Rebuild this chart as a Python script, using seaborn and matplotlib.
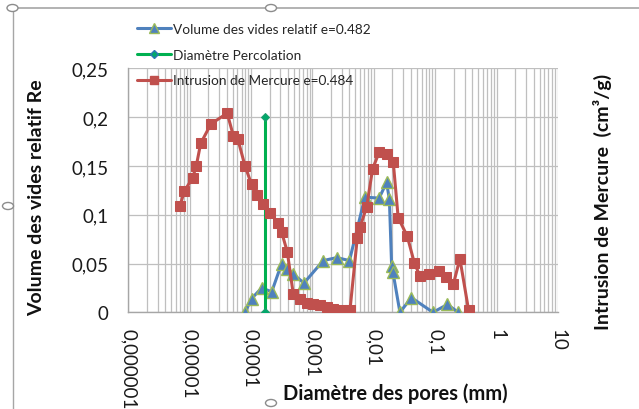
import numpy as np
import pandas as pd
import matplotlib
matplotlib.use("Agg")
import matplotlib.pyplot as plt
import seaborn as sns
from matplotlib.ticker import FixedLocator, FixedFormatter, LogLocator, NullFormatter
from matplotlib.lines import Line2D
from matplotlib.patches import Circle

# ---------------- data ----------------
vol_d = [7.96e-5, 1.02e-4, 1.49e-4, 2.17e-4, 3.15e-4, 3.80e-4, 4.86e-4, 7.28e-4,
         1.50e-3, 2.48e-3, 4.01e-3, 7.16e-3, 1.22e-2, 1.61e-2, 1.79e-2, 1.95e-2,
         2.05e-2, 2.66e-2, 4.09e-2, 9.18e-2, 0.158, 0.237]
vol_v = [0.0, 0.014, 0.025, 0.021, 0.050, 0.044, 0.039, 0.030,
         0.053, 0.056, 0.053, 0.118, 0.117, 0.133, 0.116, 0.047,
         0.041, 0.0, 0.015, 0.0, 0.008, 0.0]

perc_d = [1.68e-4, 1.68e-4]
perc_v = [0.0, 0.2]

hg_d = [6.95e-6, 8.17e-6, 1.12e-5, 1.28e-5, 1.51e-5, 2.22e-5, 4.09e-5, 5.13e-5,
        6.05e-5, 7.96e-5, 1.02e-4, 1.23e-4, 1.58e-4, 2.03e-4, 2.77e-4, 3.15e-4,
        3.89e-4, 4.86e-4, 6.25e-4, 8.05e-4, 1.03e-3, 1.32e-3, 1.70e-3, 2.18e-3,
        2.99e-3, 4.08e-3, 5.37e-3, 5.94e-3, 7.64e-3, 9.55e-3, 1.22e-2, 1.65e-2,
        2.07e-2, 2.49e-2, 3.50e-2, 4.55e-2, 5.64e-2, 7.89e-2, 0.116, 0.149,
        0.198, 0.252, 0.350]
hg_v = [0.109, 0.124, 0.138, 0.150, 0.173, 0.193, 0.204, 0.181,
        0.178, 0.150, 0.131, 0.120, 0.111, 0.102, 0.091, 0.082,
        0.062, 0.019, 0.014, 0.010, 0.008, 0.007, 0.005, 0.003,
        0.002, 0.002, 0.076, 0.087, 0.108, 0.147, 0.164, 0.162,
        0.154, 0.097, 0.078, 0.051, 0.037, 0.039, 0.042, 0.036,
        0.029, 0.055, 0.002]

x_ticks = [1e-6, 1e-5, 1e-4, 1e-3, 1e-2, 1e-1, 1, 10]
x_labels = ["0,000001", "0,00001", "0,0001", "0,001", "0,01", "0,1", "1", "10"]
y_ticks = [0, 0.05, 0.1, 0.15, 0.2, 0.25]
y_labels = ["0", "0,05", "0,1", "0,15", "0,2", "0,25"]

lab_vol = "Volume des vides relatif e=0.482"
lab_perc = "Diamètre Percolation"
lab_hg = "Intrusion de Mercure e=0.484"

# ---------------- style ----------------
sns.set_style("white")
plt.rcParams["font.family"] = ["Lato", "DejaVu Sans"]

W, H = 639, 410
fig = plt.figure(figsize=(W / 100, H / 100), dpi=100)
L, R, B, T = 128.3, 558.0, 313.3, 69.3
ax = fig.add_axes([L / W, 1 - B / H, (R - L) / W, (B - T) / H])

blue = "#4F81BD"
green_edge = "#9BBB59"
red = "#C0504D"
green = "#00B050"

df_vol = pd.DataFrame({"d": vol_d, "v": vol_v})
df_perc = pd.DataFrame({"d": perc_d, "v": perc_v})
df_hg = pd.DataFrame({"d": hg_d, "v": hg_v})

sns.lineplot(data=df_vol, x="d", y="v", ax=ax, sort=False, estimator=None,
             color=blue, lw=2.2, marker="^", markersize=8.5,
             markerfacecolor=blue, markeredgecolor=green_edge, markeredgewidth=1.0,
             zorder=3)
sns.lineplot(data=df_perc, x="d", y="v", ax=ax, sort=False, estimator=None,
             color=green, lw=2.2, marker="D", markersize=4.5,
             markerfacecolor="#00A86B", markeredgecolor="#1F9E6E",
             zorder=4)
sns.lineplot(data=df_hg, x="d", y="v", ax=ax, sort=False, estimator=None,
             color=red, lw=2.2, marker="s", markersize=7,
             markerfacecolor=red, markeredgecolor=red,
             zorder=5)

ax.set_xscale("log")
ax.set_xlim(1e-6, 10)
ax.set_ylim(0, 0.25)

ax.xaxis.set_major_locator(FixedLocator(x_ticks))
ax.xaxis.set_major_formatter(FixedFormatter(x_labels))
ax.xaxis.set_minor_locator(LogLocator(base=10, subs=np.arange(2, 10), numticks=100))
ax.xaxis.set_minor_formatter(NullFormatter())
ax.yaxis.set_major_locator(FixedLocator(y_ticks))
ax.yaxis.set_major_formatter(FixedFormatter(y_labels))

grid_c = "#BFBFBF"
ax.grid(True, which="both", axis="x", color=grid_c, lw=0.9)
ax.grid(True, which="major", axis="y", color=grid_c, lw=0.9)
ax.set_axisbelow(True)

for s in ["top", "right"]:
    ax.spines[s].set_visible(False)
for s in ["left", "bottom"]:
    ax.spines[s].set_color("#A6A6A6")
    ax.spines[s].set_linewidth(1.0)

ax.tick_params(axis="x", which="both", direction="out", length=4, width=0.9,
               color="#A6A6A6", labelsize=13.5, pad=7, labelrotation=-90,
               labelcolor="#1a1a1a")
ax.tick_params(axis="y", which="major", direction="out", length=4.5, width=0.9,
               color="#A6A6A6", labelsize=13.5, pad=10, labelcolor="#1a1a1a")
for lbl in ax.get_xticklabels():
    lbl.set_va("top")
    lbl.set_ha("center")

ax.set_xlabel("Diamètre des pores (mm)", fontsize=14.5, fontweight="bold", color="#111111")
ax.xaxis.set_label_coords((395 - L) / (R - L), (B - 394) / (B - T))
ax.xaxis.label.set_va("center")
ax.set_ylabel("Volume des vides relatif Re", fontsize=14, fontweight="bold", color="#111111")
ax.yaxis.set_label_coords((36.7 - L) / (R - L), (B - 197.5) / (B - T))
ax.yaxis.label.set_va("center")

fig.text(602.5 / W, 1 - 202 / H, "Intrusion de Mercure  (cm³/g)", rotation=90,
         ha="center", va="center", fontsize=14, fontweight="bold", color="#111111")

# legend
handles = [
    Line2D([], [], color=blue, lw=2.2, marker="^", markersize=7,
           markerfacecolor=blue, markeredgecolor=green_edge),
    Line2D([], [], color=green, lw=2.2, marker="D", markersize=4.5,
           markerfacecolor="#00A86B", markeredgecolor="#2E75B6"),
    Line2D([], [], color=red, lw=2.2, marker="s", markersize=6,
           markerfacecolor=red, markeredgecolor=red),
]
fig.legend(handles, [lab_vol, lab_perc, lab_hg], loc="upper left",
           bbox_to_anchor=(134 / W, 1 - 21 / H), frameon=False, fontsize=9.8,
           handlelength=2.5, handletextpad=0.15, labelspacing=1.02,
           borderpad=0.2, borderaxespad=0)

# chart frame and selection handles (Excel screenshot)
frame_c = "#A6A6A6"
fig.add_artist(Line2D([12.5 / W, 1], [1 - 8.5 / H, 1 - 8.5 / H], color=frame_c, lw=1.2,
                      transform=fig.transFigure))
fig.add_artist(Line2D([12.5 / W, 12.5 / W], [0, 1 - 8.5 / H], color=frame_c, lw=1.0,
                      transform=fig.transFigure))
for (cx, cy) in [(12.5, 9), (271, 9), (8, 207), (271, 404)]:
    fig.add_artist(Circle((cx / W, 1 - cy / H), 5.5 / W, transform=fig.transFigure,
                          facecolor="white", edgecolor="#8C8C8C", lw=1.0, zorder=10))

fig.savefig("out.png", dpi=100)
